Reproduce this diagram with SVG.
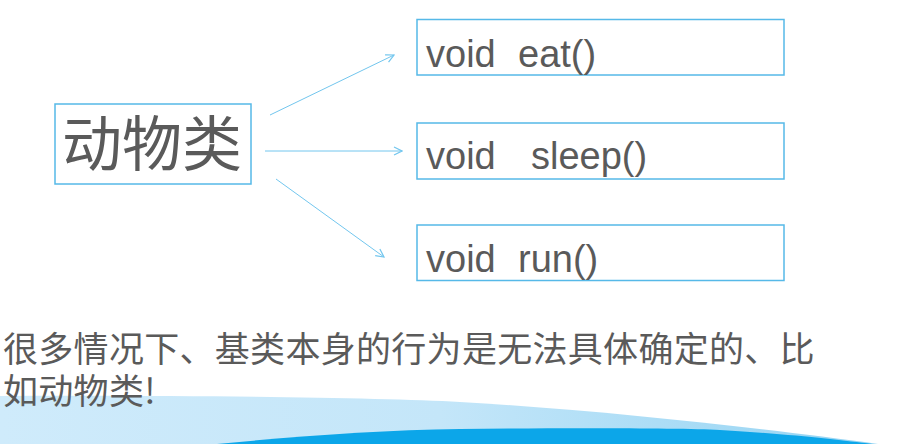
<svg xmlns="http://www.w3.org/2000/svg" width="901" height="444" viewBox="0 0 901 444">
<style>
.box{fill:#fff;stroke:#56b9e8;stroke-width:1.5}
.cn{font-family:"Noto Sans CJK SC","Noto Sans",sans-serif;fill:#5a5a5a}
.code{font-family:"Liberation Sans",Arial,sans-serif;font-size:38px;fill:#5a5a5a}
.link{stroke:#72c6ee;stroke-width:1;fill:none;marker-end:url(#arr)}
</style>
<defs>
<marker id="arr" viewBox="0 0 10 10" refX="9" refY="5" markerWidth="10" markerHeight="10" markerUnits="userSpaceOnUse" orient="auto">
<path d="M1,1 L9,5 L1,9" fill="none" stroke="#72c6ee" stroke-width="1.2"/>
</marker>
<linearGradient id="lg" x1="0" y1="0" x2="1" y2="0">
<stop offset="0" stop-color="#cfebfb"/>
<stop offset="0.5" stop-color="#c4e6f9"/>
<stop offset="1" stop-color="#94d4f3"/>
</linearGradient>
</defs>
<rect width="901" height="444" fill="#fff"/>
<g id="wave">
<path d="M0,396 C200,395 380,398 460,402 C600,410 760,428 878,444 L0,444 Z" fill="url(#lg)"/>
<path d="M217,444 C300,436 380,430 460,429 C560,428 680,428 720,430 C790,434 840,440 872,444 Z" fill="#0ca6e9"/>
</g>
<g id="connectors">
<line class="link" x1="270" y1="115" x2="394" y2="55"/>
<line class="link" x1="265" y1="151" x2="402" y2="151"/>
<line class="link" x1="276" y1="179" x2="384" y2="257"/>
</g>
<g id="animal">
<rect class="box" x="55" y="104" width="196" height="80"/>
<text class="cn" x="62" y="166" font-size="60">动物类</text>
</g>
<g id="eat">
<rect class="box" x="417" y="19.5" width="367" height="55.5"/>
<text class="code" x="426" y="67">void<tspan x="518">eat()</tspan></text>
</g>
<g id="sleep">
<rect class="box" x="417" y="123" width="367" height="56"/>
<text class="code" x="426" y="169">void<tspan x="531">sleep()</tspan></text>
</g>
<g id="run">
<rect class="box" x="417" y="225" width="367" height="55.5"/>
<text class="code" x="426" y="272">void<tspan x="518">run()</tspan></text>
</g>
<g id="caption">
<text class="cn" font-size="35" letter-spacing="0.3"><tspan x="3" y="362">很多情况下、基类本身的行为是无法具体确定的、比</tspan><tspan x="3" y="404">如动物类!</tspan></text>
</g>
</svg>
